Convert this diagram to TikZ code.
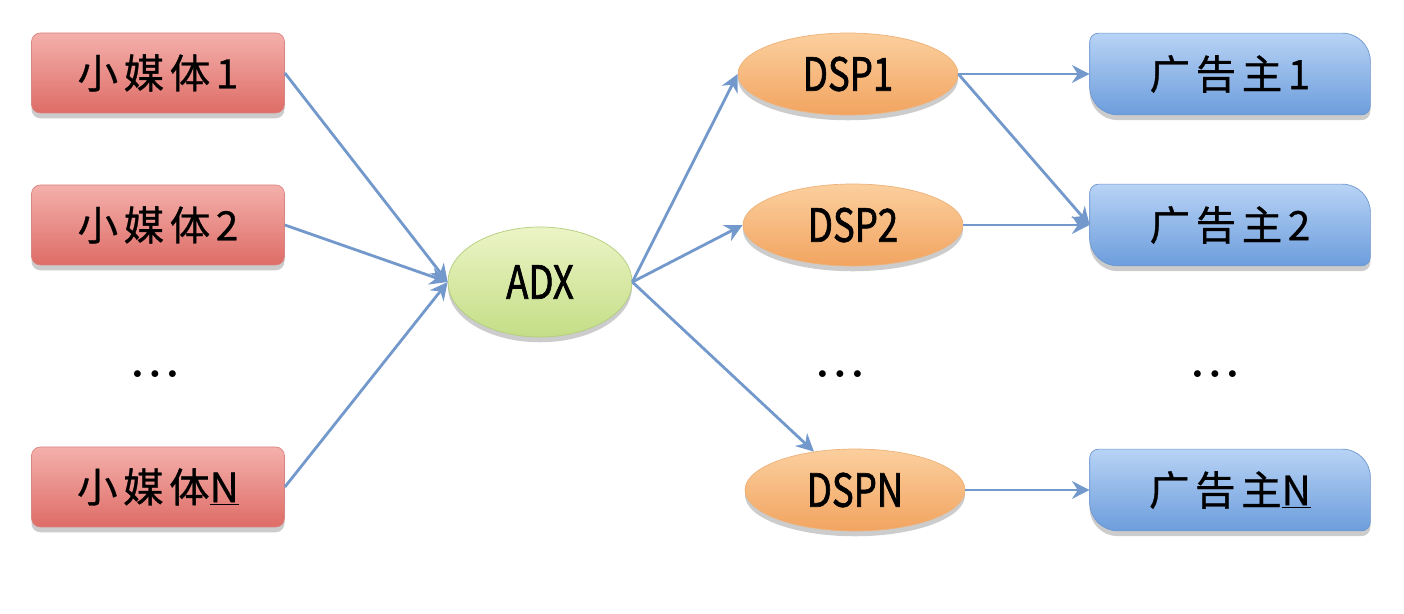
\documentclass[tikz,border=0pt]{standalone}
\usepackage{fontspec}
\setmainfont{Noto Sans CJK SC}
\newfontfamily\cnfont[LetterSpace=14,FakeBold=0.8]{Noto Sans CJK SC}
\newfontfamily\enfont[FakeStretch=0.8,FakeBold=1.4]{Noto Sans CJK SC}
\usepackage{tikz}
\usetikzlibrary{arrows.meta,shapes,shadows,backgrounds}
\definecolor{redtop}{HTML}{F4B0AC}
\definecolor{redbot}{HTML}{DE6C66}
\definecolor{redline}{HTML}{D98581}
\definecolor{ortop}{HTML}{FBCF9E}
\definecolor{orbot}{HTML}{F2A460}
\definecolor{orline}{HTML}{EDB27A}
\definecolor{grtop}{HTML}{ECF4C6}
\definecolor{grbot}{HTML}{C4DE86}
\definecolor{grline}{HTML}{B3CD7C}
\definecolor{bltop}{HTML}{B8D3F5}
\definecolor{blbot}{HTML}{6C9DDC}
\definecolor{blline}{HTML}{6F98CF}
\definecolor{arrowblue}{HTML}{7399CC}

\begin{document}
\begin{tikzpicture}[
  softshadow/.style={drop shadow={shadow xshift=0pt, shadow yshift=-3pt, opacity=0.2, fill=black}},
  media/.style={rectangle, rounded corners=5pt, minimum width=5.06cm, minimum height=1.6cm,
    draw=redline, top color=redtop, bottom color=redbot, softshadow,
    font=\cnfont\fontsize{23}{25}\selectfont},
  hub/.style={ellipse, minimum width=3.68cm, minimum height=2.2cm,
    draw=grline, top color=grtop, bottom color=grbot, softshadow,
    font=\enfont\fontsize{26}{28}\selectfont},
  dsp/.style={ellipse, minimum width=4.4cm, minimum height=1.64cm,
    draw=orline, top color=ortop, bottom color=orbot, softshadow,
    font=\enfont\fontsize{26}{28}\selectfont},
  adv/.style={rectangle, minimum width=5.6cm, minimum height=1.62cm,
    font=\cnfont\fontsize{23}{25}\selectfont},
  advshape/.style={draw=blline, top color=bltop, bottom color=blbot, softshadow},
  dots/.style={font=\fontsize{10}{12}\selectfont},
  link/.style={-{Stealth[length=10pt,width=10pt]}, line width=1.6pt, draw=arrowblue}]

  \useasboundingbox (0,0) rectangle (28.08,-12.28);

  % Nodes
  \node[media] (src1) at (3.16,-1.46) {小媒体1};
  \node[media] (src2) at (3.16,-4.5) {小媒体2};
  \node[dots] (srcdots) at (3.1,-7.5) {$\bullet\;\bullet\;\bullet$};
  \node[media] (srcN) at (3.16,-9.74) {小媒体\underline{N}};

  \node[hub] (adx) at (10.8,-5.64) {ADX};

  \node[dsp] (dsp1) at (16.96,-1.48) {DSP1};
  \node[dsp] (dsp2) at (17.06,-4.5) {DSP2};
  \node[dots] (dspdots) at (16.8,-7.5) {$\bullet\;\bullet\;\bullet$};
  \node[dsp] (dspN) at (17.1,-9.8) {DSPN};

  \node[adv] (ad1) at (24.6,-1.48) {广告主1};
  \node[adv] (ad2) at (24.6,-4.5) {广告主2};
  \node[dots] (addots) at (24.3,-7.5) {$\bullet\;\bullet\;\bullet$};
  \node[adv] (adN) at (24.6,-9.8) {广告主\underline{N}};

  % advertiser boxes: two round corners, two small ones
  \begin{scope}[on background layer]
    \foreach \n in {ad1,ad2,adN}
      \path[advshape] ([xshift=5pt]\n.north west) -- ([xshift=-16pt]\n.north east)
        arc[start angle=90,end angle=0,radius=16pt] -- ([yshift=5pt]\n.south east)
        arc[start angle=0,end angle=-90,radius=5pt] -- ([xshift=16pt]\n.south west)
        arc[start angle=270,end angle=180,radius=16pt] -- ([yshift=-5pt]\n.north west)
        arc[start angle=180,end angle=90,radius=5pt] -- cycle;
  \end{scope}

  % Links
  \foreach \s in {src1,src2,srcN}
    \draw[link] (\s.east) -- (adx.west);
  \foreach \d in {dsp1,dsp2}
    \draw[link] (adx.east) -- (\d.west);
  \draw[link] (adx.east) -- (dspN);
  \draw[link] (dsp1.east) -- (ad1.west);
  \draw[link] (dsp1.east) -- (ad2.west);
  \draw[link] (dsp2.east) -- (ad2.west);
  \draw[link] (dspN.east) -- (adN.west);

\end{tikzpicture}
\end{document}
